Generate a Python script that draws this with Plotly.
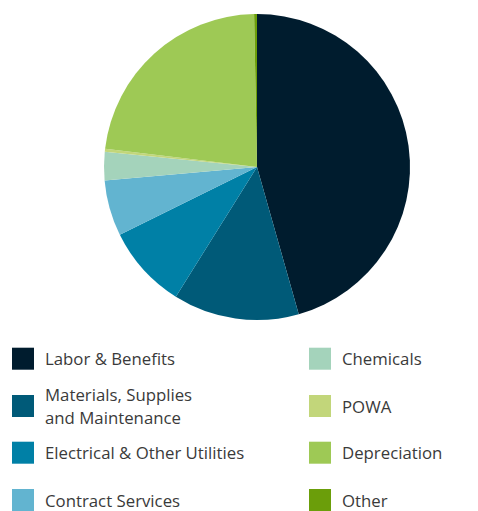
import plotly.graph_objects as go

W, H = 478, 511

categories = ["Labor & Benefits", "Materials, Supplies and Maintenance",
              "Electrical & Other Utilities", "Contract Services",
              "Chemicals", "POWA", "Depreciation", "Other"]
legend_lines = [["Labor & Benefits"], ["Materials, Supplies", "and Maintenance"],
                ["Electrical & Other Utilities"], ["Contract Services"],
                ["Chemicals"], ["POWA"], ["Depreciation"], ["Other"]]
values = [45.6, 13.3, 8.8, 5.9, 3.0, 0.3, 22.8, 0.3]
colors = ["#001c2e", "#005a78", "#0080a6", "#62b4d0",
          "#a4d3bb", "#c2d67a", "#9ec955", "#6b9e0a"]

fig = go.Figure(go.Pie(
    labels=categories, values=values, sort=False, direction="clockwise",
    rotation=0, marker=dict(colors=colors, line=dict(width=0)),
    textinfo="none", hoverinfo="label+percent", showlegend=False,
    domain=dict(x=[(257-153)/W, (257+153)/W], y=[1-320/H, 1-14/H]),
))

# custom two-column legend
col_x = [12, 309]
row_y = [358.7, 406, 452.7, 500]
shapes, annotations = [], []
for i, (lines, col) in enumerate(zip(legend_lines, colors)):
    c, r = divmod(i, 4)
    x0 = col_x[c]
    yc = row_y[r]
    shapes.append(dict(type="rect", xref="paper", yref="paper",
                       x0=x0/W, x1=(x0+22)/W, y0=1-(yc+11)/H, y1=1-(yc-11)/H,
                       fillcolor=col, line=dict(width=0)))
    n = len(lines)
    for k, t in enumerate(lines):
        ty = yc + (k - (n-1)/2) * 23.3
        annotations.append(dict(text=t, xref="paper", yref="paper",
                                x=(x0+31)/W, y=1-ty/H, xanchor="left", yanchor="middle",
                                showarrow=False, align="left",
                                font=dict(family="Open Sans", size=16.8, color="#3a3a3a")))

fig.update_layout(width=W, height=H, margin=dict(l=0, r=0, t=0, b=0),
                  paper_bgcolor="white", plot_bgcolor="white",
                  shapes=shapes, annotations=annotations)
fig.write_html("out.html", config={"displayModeBar": False},
               post_script="document.body.style.margin='0';")
